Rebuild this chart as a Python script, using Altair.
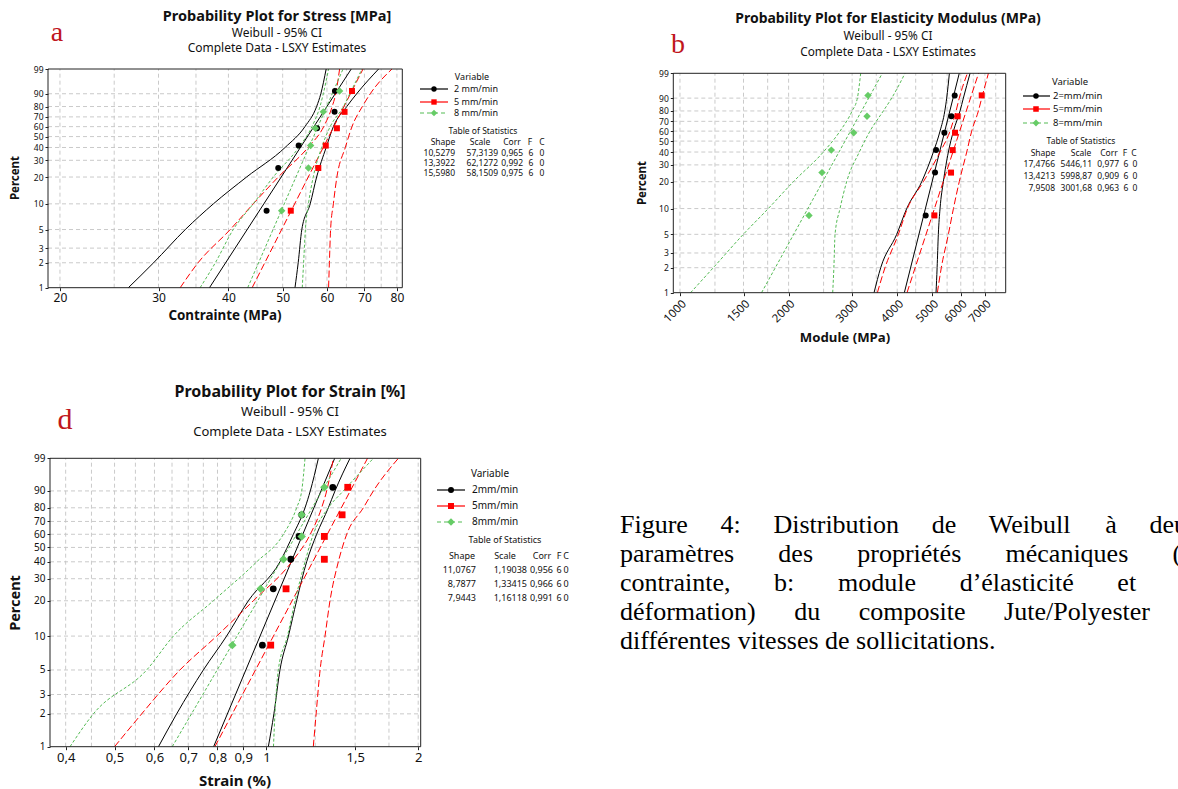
import numpy as np
import pandas as pd
import altair as alt

# ------------------------------------------------------------------
# Values
# ------------------------------------------------------------------
PLOT_PCT = [8.33, 25.0, 41.67, 58.33, 75.0, 91.67]        # plotting positions (%)
CI_PCT = [1, 2, 5, 10, 20, 40, 60, 80, 90, 99]             # levels where CI bounds were read
FIT_PCT = [1, 99]
Y_TICKS = [1, 2, 3, 5, 10, 20, 30, 40, 50, 60, 70, 80, 90, 99]
SERIES_A = ["2 mm/min", "5 mm/min", "8 mm/min"]
SERIES_B = ["2=mm/min", "5=mm/min", "8=mm/min"]
SERIES_D = ["2mm/min", "5mm/min", "8mm/min"]
STAT_HEAD = ["Shape", "Scale", "Corr", "F", "C"]

# ---- panel a : stress (MPa)
A_X_TICKS = [20, 30, 40, 50, 60, 70, 80]
A_X_GRID = [20, 25, 30, 35, 40, 45, 50, 55, 60, 65, 70, 75, 80]
A2_PTS = [46.8, 49.1, 53.4, 57.6, 61.9, 62.0]
A5_PTS = [51.7, 57.9, 59.7, 62.5, 64.5, 66.5]
A8_PTS = [49.8, 55.6, 56.1, 57.2, 59.1, 63.2]
A2_FIT = [37.0, 66.3]
A5_FIT = [44.1, 69.6]
A8_FIT = [43.3, 64.1]
A2_LO = [26.5, 29.4, 33.5, 37.6, 43.1, 50.5, 54.8, 57.5, 58.5, 59.8]
A2_HI = [52.6, 53.3, 54.1, 56.0, 57.5, 59.8, 61.6, 65.1, 67.8, 74.2]
A5_LO = [32.8, 35.3, 40.3, 44.3, 49.1, 55.5, 59.2, 61.3, 62.2, 63.2]
A5_HI = [60.4, 60.6, 60.9, 61.6, 62.5, 64.7, 66.5, 69.4, 71.7, 78.4]
A8_LO = [35.6, 37.9, 40.8, 44.3, 48.1, 53.4, 56.4, 58.3, 59.1, 60.4]
A8_HI = [54.2, 54.5, 54.9, 55.6, 56.7, 58.7, 60.8, 64.2, 65.9, 69.3]
A_STATS = [["10,5279", "57,3139", "0,965", "6", "0"],
           ["13,3922", "62,1272", "0,992", "6", "0"],
           ["15,5980", "58,1509", "0,975", "6", "0"]]

# ---- panel b : elasticity modulus (MPa)
B_X_TICKS = [1000, 1500, 2000, 3000, 4000, 5000, 6000, 7000]
B_X_GRID = [1000, 1250, 1500, 1750, 2000, 2500, 3000, 3500, 4000, 4500,
            5000, 5500, 6000, 6500, 7000, 7500]
B2_PTS = [4797, 5092, 5125, 5404, 5651, 5773]
B5_PTS = [5070, 5639, 5700, 5785, 5884, 6859]
B8_PTS = [2278, 2475, 2627, 3030, 3299, 3319]
B2_FIT = [4186, 5943]
B5_FIT = [4258, 6722]
B8_FIT = [1683, 3637]
B2_LO = [3450, 3600, 3987, 4250, 4677, 5038, 5257, 5420, 5485, 5580]
B2_HI = [5124, 5160, 5200, 5257, 5370, 5544, 5726, 5972, 6101, 6366]
B5_LO = [3524, 3700, 4029, 4268, 4727, 5257, 5604, 5823, 5943, 6259]
B5_HI = [5168, 5300, 5544, 5726, 5943, 6233, 6434, 6715, 6859, 7158]
B8_LO = [1070, 1237, 1498, 1757, 2062, 2496, 2777, 3000, 3102, 3168]
B8_HI = [2650, 2670, 2690, 2777, 2897, 3141, 3363, 3661, 3861, 4204]
B_STATS = [["17,4766", "5446,11", "0,977", "6", "0"],
           ["13,4213", "5998,87", "0,909", "6", "0"],
           ["7,9508", "3001,68", "0,963", "6", "0"]]

# ---- panel d : strain (%)
D_X_TICKS = [0.4, 0.5, 0.6, 0.7, 0.8, 0.9, 1.0, 1.5, 2.0]
D_X_GRID = [0.4, 0.45, 0.5, 0.55, 0.6, 0.65, 0.7, 0.75, 0.8, 0.85, 0.9, 0.95,
            1.0, 1.25, 1.5, 1.75, 2.0]
D2_PTS = [0.982, 1.032, 1.118, 1.161, 1.175, 1.354]
D5_PTS = [1.020, 1.094, 1.303, 1.303, 1.413, 1.450]
D8_PTS = [0.856, 0.974, 1.081, 1.175, 1.175, 1.303]
D2_FIT = [0.786, 1.366]
D5_FIT = [0.7905, 1.587]
D8_FIT = [0.6507, 1.407]
D2_LO = [0.611, 0.664, 0.750, 0.834, 0.921, 1.064, 1.131, 1.193, 1.222, 1.268]
D2_HI = [1.009, 1.035, 1.064, 1.106, 1.148, 1.202, 1.258, 1.327, 1.368, 1.465]
D5_LO = [0.500, 0.566, 0.674, 0.797, 0.942, 1.123, 1.222, 1.287, 1.317, 1.358]
D5_HI = [1.239, 1.255, 1.278, 1.307, 1.337, 1.389, 1.443, 1.557, 1.630, 1.827]
D8_LO = [0.408, 0.454, 0.579, 0.654, 0.785, 0.957, 1.081, 1.148, 1.175, 1.193]
D8_HI = [1.033, 1.040, 1.056, 1.101, 1.140, 1.193, 1.239, 1.327, 1.421, 1.630]
D_STATS = [["11,0767", "1,19038", "0,956", "6", "0"],
           ["8,7877", "1,33415", "0,966", "6", "0"],
           ["7,9443", "1,16118", "0,991", "6", "0"]]

CAPTION = ["Figure 4: Distribution de Weibull à deux",
           "paramètres des propriétés mécaniques (a:",
           "contrainte, b: module d\u2019élasticité et d:",
           "déformation) du composite Jute/Polyester à",
           "différentes vitesses de sollicitations."]

# ------------------------------------------------------------------
# Styling / layout
# ------------------------------------------------------------------
W_TOTAL, H_TOTAL = 1178, 789
SANS = "Noto Sans"
SERIF = "Liberation Serif"
RED_LETTER = "#c0161c"
GRID = "#c4c4c4"
STYLE = {
    0: dict(line="black", dash=None, pt="black", shape="circle", size=36, ldash=None),
    1: dict(line="#ff0000", dash=[7, 3], pt="#ff0000", shape="square", size=36, ldash=None),
    2: dict(line="#55bb55", dash=[3, 2], pt="#66cc66", shape="diamond", size=55, ldash=[4, 3]),
}


def wb(p):
    """Weibull probability-paper transform of a percentage."""
    return np.log(-np.log(1.0 - np.asarray(p, dtype=float) / 100.0))


W_LO, W_HI = float(wb(1)), float(wb(99))

PANELS = [
    dict(xr=[48, 402.3], yr=[287.7, 69], xdom=[19.04, 81.8], ticks=A_X_TICKS, grid=A_X_GRID,
         fmt="~g", expr=None, angle=0, tfs=12, yfs=8.5, msc=1.0,
         series=[(A2_PTS, A2_FIT, A2_LO, A2_HI), (A5_PTS, A5_FIT, A5_LO, A5_HI),
                 (A8_PTS, A8_FIT, A8_LO, A8_HI)]),
    dict(xr=[673.3, 1005.7], yr=[292.7, 73.3], xdom=[958.3, 7993], ticks=B_X_TICKS, grid=B_X_GRID,
         fmt="d", expr=None, angle=315, tfs=11.5, yfs=8.5, msc=1.0,
         series=[(B2_PTS, B2_FIT, B2_LO, B2_HI), (B5_PTS, B5_FIT, B5_LO, B5_HI),
                 (B8_PTS, B8_FIT, B8_LO, B8_HI)]),
    dict(xr=[50, 420.7], yr=[746.7, 458.3], xdom=[0.3724, 2.023], ticks=D_X_TICKS, grid=D_X_GRID,
         fmt="~g", expr="replace(datum.label, '.', ',')", angle=0, tfs=13, yfs=10, msc=1.3,
         series=[(D2_PTS, D2_FIT, D2_LO, D2_HI), (D5_PTS, D5_FIT, D5_LO, D5_HI),
                 (D8_PTS, D8_FIT, D8_LO, D8_HI)]),
]

layers = []

for P in PANELS:
    xsc = alt.Scale(type="log", domain=P["xdom"], range=P["xr"], nice=False, zero=False)
    ysc = alt.Scale(type="linear", domain=[W_LO, W_HI], range=P["yr"], nice=False, zero=False)

    # dashed grid
    vg = pd.DataFrame({"g": P["grid"], "lo": W_LO, "hi": W_HI})
    layers.append(alt.Chart(vg).mark_rule(color=GRID, strokeDash=[4, 3], strokeWidth=0.9).encode(
        x=alt.X("g:Q", scale=xsc, axis=None),
        y=alt.Y("lo:Q", scale=ysc, axis=None), y2="hi:Q"))
    hg = pd.DataFrame({"w": wb(Y_TICKS[1:-1]), "lo": P["xdom"][0], "hi": P["xdom"][1]})
    layers.append(alt.Chart(hg).mark_rule(color=GRID, strokeDash=[4, 3], strokeWidth=0.9).encode(
        y=alt.Y("w:Q", scale=ysc, axis=None),
        x=alt.X("lo:Q", scale=xsc, axis=None), x2="hi:Q"))

    # fitted lines, confidence bounds and points
    for i, (pts, fit, lo, hi) in enumerate(P["series"]):
        st = STYLE[i]
        rows = []
        for name, pcts, vals in (("lo", CI_PCT, lo), ("fit", FIT_PCT, fit), ("hi", CI_PCT, hi)):
            for p, v in zip(pcts, vals):
                rows.append({"curve": name, "v": v, "w": float(wb(p))})
        mk = dict(color=st["line"], strokeWidth=1, interpolate="monotone")
        if st["dash"]:
            mk["strokeDash"] = st["dash"]
        layers.append(alt.Chart(pd.DataFrame(rows)).mark_line(**mk).encode(
            x=alt.X("v:Q", scale=xsc, axis=None),
            y=alt.Y("w:Q", scale=ysc, axis=None),
            detail="curve:N", order="w:Q"))
    for i, (pts, fit, lo, hi) in enumerate(P["series"]):
        st = STYLE[i]
        layers.append(alt.Chart(pd.DataFrame({"v": pts, "w": wb(PLOT_PCT)})).mark_point(
            filled=True, shape=st["shape"], size=st["size"] * P["msc"], color=st["pt"],
            opacity=1, strokeWidth=0).encode(
            x=alt.X("v:Q", scale=xsc, axis=None),
            y=alt.Y("w:Q", scale=ysc, axis=None)))

    # frame carrying the axes
    xax = dict(orient="bottom", offset=P["yr"][0] - H_TOTAL, values=P["ticks"], grid=False,
               domain=False, tickSize=3, tickColor="#222", labelFont=SANS,
               labelFontSize=P["tfs"], labelColor="#111", labelPadding=2,
               labelOverlap=False, labelFlush=False, title=None, format=P["fmt"])
    if P["expr"]:
        xax["labelExpr"] = P["expr"]
    if P["angle"]:
        xax["labelAngle"] = P["angle"]
    yax = alt.Axis(orient="left", offset=-P["xr"][0], values=[float(v) for v in wb(Y_TICKS)],
                   labelExpr="round(100*(1-exp(-exp(datum.value))))", grid=False, domain=False,
                   tickSize=3, tickColor="#222", labelFont=SANS, labelFontSize=P["yfs"],
                   labelColor="#111", labelPadding=2, labelOverlap=False, labelFlush=False,
                   title=None)
    fr = pd.DataFrame({"x0": [P["xdom"][0]], "x1": [P["xdom"][1]], "y0": [W_LO], "y1": [W_HI]})
    layers.append(alt.Chart(fr).mark_rect(fillOpacity=0, stroke="#222", strokeWidth=1).encode(
        x=alt.X("x0:Q", scale=xsc, axis=alt.Axis(**xax)), x2="x1:Q",
        y=alt.Y("y0:Q", scale=ysc, axis=yax), y2="y1:Q"))


# ------------------------------------------------------------------
# Text helpers (titles, legends, statistics tables, caption)
# ------------------------------------------------------------------
def text_layer(rows, **kw):
    df = pd.DataFrame(rows, columns=["x", "y", "t"])
    return alt.Chart(df).mark_text(**kw).encode(
        x=alt.X("x:Q", scale=None, axis=None),
        y=alt.Y("y:Q", scale=None, axis=None),
        text="t:N")


TITLES = [
    dict(cx=277, ty=16.5, sy=[33, 48], tsz=14.5, ssz=12, title="Probability Plot for Stress [MPa]",
         letter="a", lx=57, ly=33, lsz=28),
    dict(cx=888, ty=19, sy=[36, 52], tsz=14, ssz=11.8,
         title="Probability Plot for Elasticity Modulus (MPa)", letter="b", lx=678, ly=45, lsz=28),
    dict(cx=290, ty=392, sy=[412, 432], tsz=16, ssz=13, title="Probability Plot for Strain [%]",
         letter="d", lx=65, ly=420, lsz=30),
]
for T in TITLES:
    layers.append(text_layer([(T["cx"], T["ty"], T["title"])], font=SANS, fontSize=T["tsz"],
                             fontWeight="bold", align="center", baseline="middle", color="#111"))
    layers.append(text_layer([(T["cx"], T["sy"][0], "Weibull - 95% CI"),
                              (T["cx"], T["sy"][1], "Complete Data - LSXY Estimates")],
                             font=SANS, fontSize=T["ssz"], align="center", baseline="middle",
                             color="#111"))
    layers.append(text_layer([(T["lx"], T["ly"], T["letter"])], font=SERIF, fontSize=T["lsz"],
                             align="center", baseline="middle", color=RED_LETTER))

# axis titles
AXT = [((16, 178), (225, 316), "Contrainte (MPa)", 11.5, 13.4),
       ((643, 183), (845, 338), "Module (MPa)", 11.5, 13.2),
       ((16, 603), (235, 781), "Strain (%)", 14.5, 15)]
for (px, py), (tx, ty), lab, ps, ts in AXT:
    layers.append(text_layer([(px, py, "Percent")], font=SANS, fontSize=ps, fontWeight="bold",
                             angle=270, align="center", baseline="middle", color="#111"))
    layers.append(text_layer([(tx, ty, lab)], font=SANS, fontSize=ts, fontWeight="bold",
                             align="center", baseline="middle", color="#111"))

# legends + tables of statistics
LEGENDS = [
    dict(names=SERIES_A, stats=A_STATS, vx=472, vy=77, ly=[89, 102, 113], l0=420, l1=448, lm=434,
         lt=454, fs=9, tfs=8.5, ttx=483, tty=131, hy=142,
         hx=[443, 480, 512, 530, 542], ry=[153, 163, 173], rx=[455, 498, 523, 531, 542], msc=0.8),
    dict(names=SERIES_B, stats=B_STATS, vx=1070, vy=82, ly=[96, 109, 123], l0=1023, l1=1050,
         lm=1036, lt=1053, fs=9.5, tfs=8.5, ttx=1081, tty=141, hy=153,
         hx=[1043, 1081, 1109, 1125, 1134], ry=[164, 176, 188], rx=[1055, 1092, 1119, 1126, 1135],
         msc=0.85),
    dict(names=SERIES_D, stats=D_STATS, vx=490, vy=474, ly=[490, 506, 522], l0=437, l1=465,
         lm=451, lt=472, fs=10, tfs=9, ttx=505, tty=540, hy=556,
         hx=[462, 505, 542, 559, 566], ry=[570, 584, 598], rx=[476, 527, 553, 559, 566], msc=1.0),
]
for L in LEGENDS:
    layers.append(text_layer([(L["vx"], L["vy"], "Variable")], font=SANS, fontSize=L["fs"],
                             align="center", baseline="middle", color="#111"))
    layers.append(text_layer([(L["lt"], y, n) for y, n in zip(L["ly"], L["names"])], font=SANS,
                             fontSize=L["fs"], align="left", baseline="middle", color="#111"))
    for i, y in enumerate(L["ly"]):
        st = STYLE[i]
        mk = dict(color=st["line"], strokeWidth=1.2)
        if st["ldash"]:
            mk["strokeDash"] = st["ldash"]
        layers.append(alt.Chart(pd.DataFrame({"a": [L["l0"]], "b": [L["l1"]], "y": [y]}))
                      .mark_rule(**mk).encode(
            x=alt.X("a:Q", scale=None, axis=None), x2="b:Q",
            y=alt.Y("y:Q", scale=None, axis=None)))
        layers.append(alt.Chart(pd.DataFrame({"a": [L["lm"]], "y": [y]})).mark_point(
            filled=True, shape=st["shape"], size=st["size"] * L["msc"], color=st["pt"], opacity=1,
            strokeWidth=0).encode(
            x=alt.X("a:Q", scale=None, axis=None), y=alt.Y("y:Q", scale=None, axis=None)))
    layers.append(text_layer([(L["ttx"], L["tty"], "Table of Statistics")], font=SANS,
                             fontSize=L["tfs"], align="center", baseline="middle", color="#111"))
    layers.append(text_layer([(x, L["hy"], h) for x, h in zip(L["hx"], STAT_HEAD)], font=SANS,
                             fontSize=L["tfs"], align="center", baseline="middle", color="#111"))
    right_rows, center_rows = [], []
    for y, row in zip(L["ry"], L["stats"]):
        for j in range(3):
            right_rows.append((L["rx"][j], y, row[j]))
        for j in (3, 4):
            center_rows.append((L["rx"][j], y, row[j]))
    layers.append(text_layer(right_rows, font=SANS, fontSize=L["tfs"], align="right",
                             baseline="middle", color="#111"))
    layers.append(text_layer(center_rows, font=SANS, fontSize=L["tfs"], align="center",
                             baseline="middle", color="#111"))

# justified caption (Times metrics)
TIMES_W = {' ': 250, 'a': 444, 'b': 500, 'c': 444, 'd': 500, 'e': 444, 'f': 333, 'g': 500,
           'h': 500, 'i': 278, 'j': 278, 'k': 500, 'l': 278, 'm': 778, 'n': 500, 'o': 500,
           'p': 500, 'q': 500, 'r': 333, 's': 389, 't': 278, 'u': 500, 'v': 500, 'w': 722,
           'x': 500, 'y': 500, 'z': 444, 'F': 556, 'D': 722, 'W': 944, 'J': 389, 'P': 556,
           '4': 500, ':': 278, ',': 250, '.': 250, '(': 333, ')': 333, '/': 278, '\u2019': 333,
           'é': 444, 'è': 444, 'à': 444}
CAP_SIZE, CAP_X0, CAP_R, CAP_Y0, CAP_DY = 26, 620, 1200, 533, 29


def tw(s):
    return sum(TIMES_W.get(c, 500) for c in s) / 1000.0 * CAP_SIZE


cap_rows = []
for k, line in enumerate(CAPTION):
    words = line.split(" ")
    y = CAP_Y0 + k * CAP_DY
    if k < len(CAPTION) - 1:
        gap = (CAP_R - CAP_X0 - sum(tw(w) for w in words)) / (len(words) - 1)
    else:
        gap = tw(" ")
    x = CAP_X0
    for w in words:
        cap_rows.append((x, y, w))
        x += tw(w) + gap
layers.append(text_layer(cap_rows, font=SERIF, fontSize=CAP_SIZE, align="left",
                         baseline="alphabetic", color="black"))

chart = alt.layer(*layers).resolve_scale(x="independent", y="independent").properties(
    width=W_TOTAL, height=H_TOTAL, autosize=alt.AutoSizeParams(type="none"), padding=0,
    background="white").configure_view(stroke=None)

chart.save("out.html", embed_options={"renderer": "svg", "actions": False})
